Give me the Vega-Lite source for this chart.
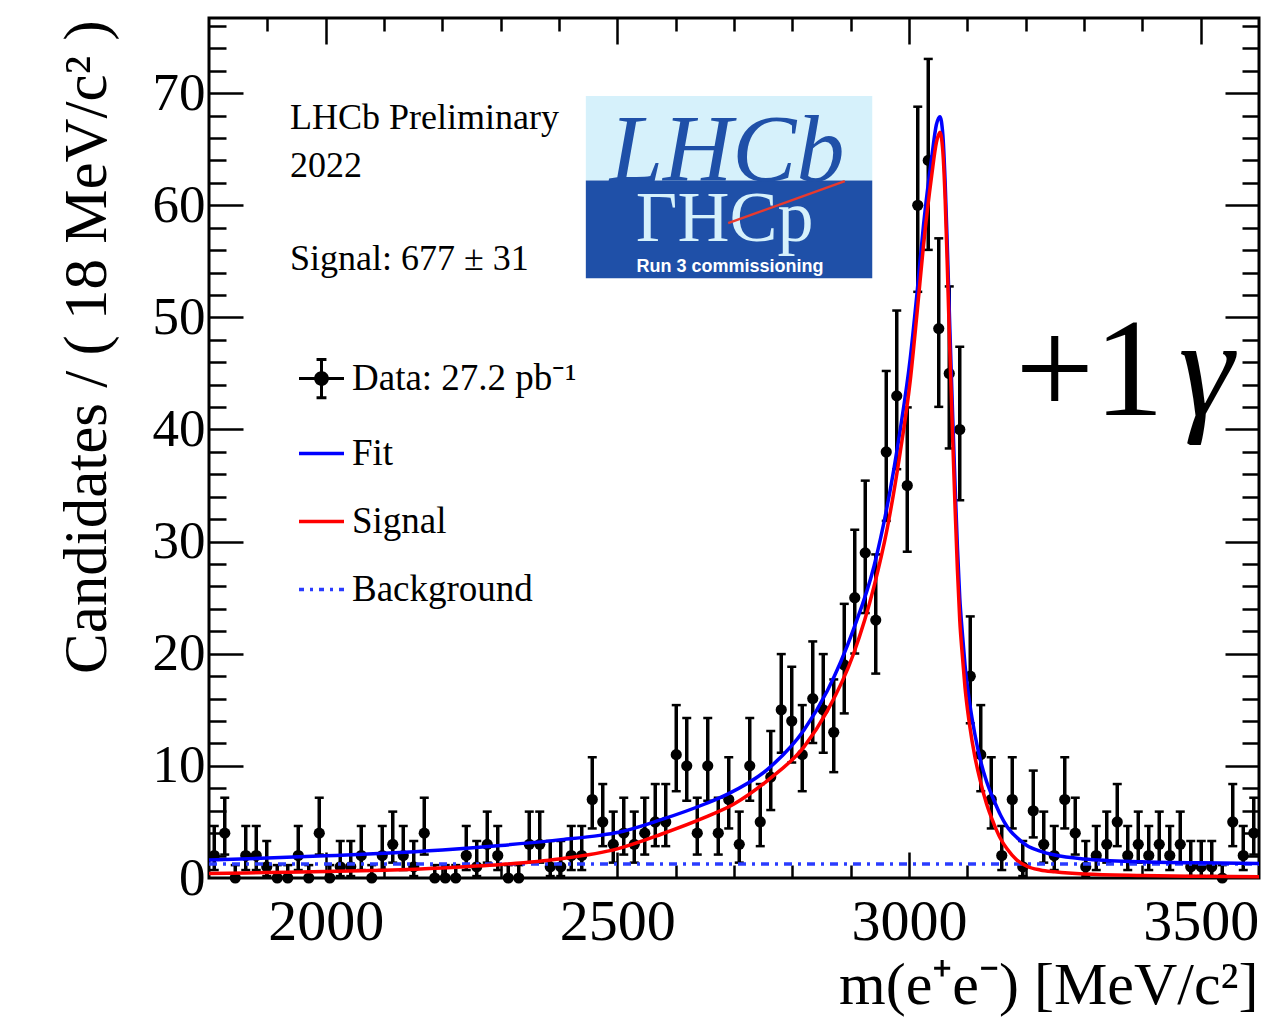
{
  "$schema": "https://vega.github.io/schema/vega-lite/v6.json",
  "width": 1050,
  "height": 860,
  "autosize": "none",
  "padding": {"left": 209, "top": 18, "right": 22, "bottom": 145},
  "background": "white",
  "config": {
    "view": {"stroke": "black", "strokeWidth": 3},
    "font": "Liberation Serif",
    "axis": {"grid": false}
  },
  "datasets": {
    "hist": [
      {"m":1809,"n":2,"lo":0.71,"hi":4.64},{"m":1827,"n":4,"lo":2.09,"hi":7.16},{"m":1845,"n":0,"lo":0,"hi":1.15},{"m":1863,"n":2,"lo":0.71,"hi":4.64},{"m":1881,"n":2,"lo":0.71,"hi":4.64},
      {"m":1899,"n":1,"lo":0.17,"hi":3.30},{"m":1917,"n":0,"lo":0,"hi":1.15},{"m":1935,"n":0,"lo":0,"hi":1.15},{"m":1953,"n":2,"lo":0.71,"hi":4.64},{"m":1971,"n":0,"lo":0,"hi":1.15},
      {"m":1989,"n":4,"lo":2.09,"hi":7.16},{"m":2007,"n":0,"lo":0,"hi":1.15},{"m":2025,"n":1,"lo":0.17,"hi":3.30},{"m":2043,"n":1,"lo":0.17,"hi":3.30},{"m":2061,"n":2,"lo":0.71,"hi":4.64},
      {"m":2079,"n":0,"lo":0,"hi":1.15},{"m":2097,"n":2,"lo":0.71,"hi":4.64},{"m":2115,"n":3,"lo":1.37,"hi":5.92},{"m":2133,"n":2,"lo":0.71,"hi":4.64},{"m":2151,"n":1,"lo":0.17,"hi":3.30},
      {"m":2169,"n":4,"lo":2.09,"hi":7.16},{"m":2187,"n":0,"lo":0,"hi":1.15},{"m":2205,"n":0,"lo":0,"hi":1.15},{"m":2223,"n":0,"lo":0,"hi":1.15},{"m":2241,"n":2,"lo":0.71,"hi":4.64},
      {"m":2259,"n":1,"lo":0.17,"hi":3.30},{"m":2277,"n":3,"lo":1.37,"hi":5.92},{"m":2295,"n":2,"lo":0.71,"hi":4.64},{"m":2313,"n":0,"lo":0,"hi":1.15},{"m":2331,"n":0,"lo":0,"hi":1.15},
      {"m":2349,"n":3,"lo":1.37,"hi":5.92},{"m":2367,"n":3,"lo":1.37,"hi":5.92},{"m":2385,"n":1,"lo":0.17,"hi":3.30},{"m":2403,"n":1,"lo":0.17,"hi":3.30},{"m":2421,"n":2,"lo":0.71,"hi":4.64},
      {"m":2439,"n":2,"lo":0.71,"hi":4.64},{"m":2457,"n":7,"lo":4.42,"hi":10.77},{"m":2475,"n":5,"lo":2.84,"hi":8.38},{"m":2493,"n":3,"lo":1.37,"hi":5.92},{"m":2511,"n":4,"lo":2.09,"hi":7.16},
      {"m":2529,"n":3,"lo":1.37,"hi":5.92},{"m":2547,"n":4,"lo":2.09,"hi":7.16},{"m":2565,"n":5,"lo":2.84,"hi":8.38},{"m":2583,"n":5,"lo":2.84,"hi":8.38},{"m":2601,"n":11,"lo":7.74,"hi":15.42},
      {"m":2619,"n":10,"lo":6.89,"hi":14.27},{"m":2637,"n":4,"lo":2.09,"hi":7.16},{"m":2655,"n":10,"lo":6.89,"hi":14.27},{"m":2673,"n":4,"lo":2.09,"hi":7.16},{"m":2691,"n":7,"lo":4.42,"hi":10.77},
      {"m":2709,"n":3,"lo":1.37,"hi":5.92},{"m":2727,"n":10,"lo":6.89,"hi":14.27},{"m":2745,"n":5,"lo":2.84,"hi":8.38},{"m":2763,"n":9,"lo":6.06,"hi":13.11},{"m":2781,"n":15,"lo":11.17,"hi":19.97},
      {"m":2799,"n":14,"lo":10.30,"hi":18.84},{"m":2817,"n":11,"lo":7.74,"hi":15.42},{"m":2835,"n":16,"lo":12.04,"hi":21.10},{"m":2853,"n":15,"lo":11.17,"hi":19.97},{"m":2871,"n":13,"lo":9.44,"hi":17.71},
      {"m":2889,"n":19,"lo":14.68,"hi":24.45},{"m":2907,"n":25,"lo":20.02,"hi":31.06},{"m":2925,"n":29,"lo":23.63,"hi":35.44},{"m":2943,"n":23,"lo":18.23,"hi":28.86},{"m":2961,"n":38,"lo":31.85,"hi":45.22},
      {"m":2979,"n":43,"lo":36.46,"hi":50.61},{"m":2997,"n":35,"lo":29.10,"hi":41.97},{"m":3015,"n":60,"lo":52.28,"hi":68.79},{"m":3033,"n":64,"lo":56.02,"hi":73.05},{"m":3051,"n":49,"lo":42.02,"hi":57.05},
      {"m":3069,"n":45,"lo":38.31,"hi":52.76},{"m":3087,"n":40,"lo":33.69,"hi":47.38},{"m":3105,"n":18,"lo":13.80,"hi":23.33},{"m":3123,"n":11,"lo":7.74,"hi":15.42},{"m":3141,"n":7,"lo":4.42,"hi":10.77},
      {"m":3159,"n":2,"lo":0.71,"hi":4.64},{"m":3177,"n":7,"lo":4.42,"hi":10.77},{"m":3195,"n":1,"lo":0.17,"hi":3.30},{"m":3213,"n":6,"lo":3.62,"hi":9.58},{"m":3231,"n":3,"lo":1.37,"hi":5.92},
      {"m":3249,"n":2,"lo":0.71,"hi":4.64},{"m":3267,"n":7,"lo":4.42,"hi":10.77},{"m":3285,"n":4,"lo":2.09,"hi":7.16},{"m":3303,"n":1,"lo":0.17,"hi":3.30},{"m":3321,"n":2,"lo":0.71,"hi":4.64},
      {"m":3339,"n":3,"lo":1.37,"hi":5.92},{"m":3357,"n":5,"lo":2.84,"hi":8.38},{"m":3375,"n":2,"lo":0.71,"hi":4.64},{"m":3393,"n":3,"lo":1.37,"hi":5.92},{"m":3411,"n":2,"lo":0.71,"hi":4.64},
      {"m":3429,"n":3,"lo":1.37,"hi":5.92},{"m":3447,"n":2,"lo":0.71,"hi":4.64},{"m":3465,"n":3,"lo":1.37,"hi":5.92},{"m":3483,"n":1,"lo":0.17,"hi":3.30},{"m":3501,"n":1,"lo":0.17,"hi":3.30},
      {"m":3519,"n":1,"lo":0.17,"hi":3.30},{"m":3537,"n":0,"lo":0,"hi":1.15},{"m":3555,"n":5,"lo":2.84,"hi":8.38},{"m":3573,"n":2,"lo":0.71,"hi":4.64},{"m":3591,"n":4,"lo":2.09,"hi":7.16}
    ],
    "bkg": [
      {"series":"Background","m":1800,"y":1.25},{"series":"Background","m":3600,"y":1.25}
    ],
    "fit": [
      {"series":"Fit","m":1800,"y":1.6},{"series":"Fit","m":1900,"y":1.78},{"series":"Fit","m":2000,"y":1.98},{"series":"Fit","m":2100,"y":2.2},{"series":"Fit","m":2200,"y":2.5},
      {"series":"Fit","m":2300,"y":2.9},{"series":"Fit","m":2400,"y":3.4},{"series":"Fit","m":2470,"y":3.8},{"series":"Fit","m":2500,"y":4.05},{"series":"Fit","m":2575,"y":5.2},
      {"series":"Fit","m":2650,"y":6.6},{"series":"Fit","m":2690,"y":7.5},{"series":"Fit","m":2760,"y":9.8},{"series":"Fit","m":2820,"y":13.2},{"series":"Fit","m":2860,"y":16.7},
      {"series":"Fit","m":2905,"y":22.2},{"series":"Fit","m":2940,"y":27.8},{"series":"Fit","m":2962,"y":33.0},{"series":"Fit","m":2985,"y":40.0},{"series":"Fit","m":3002,"y":46.3},
      {"series":"Fit","m":3014,"y":52.3},{"series":"Fit","m":3025,"y":58.3},{"series":"Fit","m":3039,"y":64.3},{"series":"Fit","m":3047,"y":67.2},{"series":"Fit","m":3053,"y":67.9},
      {"series":"Fit","m":3058,"y":66.3},{"series":"Fit","m":3062,"y":62.0},{"series":"Fit","m":3066,"y":55.8},{"series":"Fit","m":3070,"y":49.0},{"series":"Fit","m":3075,"y":41.0},
      {"series":"Fit","m":3079,"y":35.0},{"series":"Fit","m":3083,"y":29.5},{"series":"Fit","m":3087,"y":25.0},{"series":"Fit","m":3092,"y":21.5},{"series":"Fit","m":3096,"y":19.0},
      {"series":"Fit","m":3104,"y":15.6},{"series":"Fit","m":3113,"y":12.8},{"series":"Fit","m":3122,"y":10.6},{"series":"Fit","m":3133,"y":8.6},{"series":"Fit","m":3145,"y":7.0},
      {"series":"Fit","m":3157,"y":5.6},{"series":"Fit","m":3168,"y":4.6},{"series":"Fit","m":3185,"y":3.6},{"series":"Fit","m":3202,"y":2.9},{"series":"Fit","m":3225,"y":2.4},
      {"series":"Fit","m":3250,"y":2.05},{"series":"Fit","m":3300,"y":1.7},{"series":"Fit","m":3400,"y":1.45},{"series":"Fit","m":3500,"y":1.35},{"series":"Fit","m":3600,"y":1.3}
    ],
    "signal": [
      {"series":"Signal","m":1800,"y":0.40},{"series":"Signal","m":1900,"y":0.48},{"series":"Signal","m":2000,"y":0.57},{"series":"Signal","m":2100,"y":0.70},{"series":"Signal","m":2200,"y":0.90},
      {"series":"Signal","m":2300,"y":1.20},{"series":"Signal","m":2400,"y":1.70},{"series":"Signal","m":2500,"y":2.60},{"series":"Signal","m":2575,"y":3.9},{"series":"Signal","m":2650,"y":5.4},
      {"series":"Signal","m":2700,"y":6.6},{"series":"Signal","m":2760,"y":8.8},{"series":"Signal","m":2820,"y":11.7},{"series":"Signal","m":2860,"y":14.9},{"series":"Signal","m":2905,"y":20.0},
      {"series":"Signal","m":2940,"y":26.0},{"series":"Signal","m":2962,"y":31.0},{"series":"Signal","m":2985,"y":38.0},{"series":"Signal","m":3002,"y":44.3},{"series":"Signal","m":3014,"y":50.5},
      {"series":"Signal","m":3025,"y":56.5},{"series":"Signal","m":3039,"y":62.7},{"series":"Signal","m":3047,"y":65.6},{"series":"Signal","m":3053,"y":66.5},{"series":"Signal","m":3058,"y":64.8},
      {"series":"Signal","m":3062,"y":60.5},{"series":"Signal","m":3066,"y":54.0},{"series":"Signal","m":3070,"y":47.0},{"series":"Signal","m":3075,"y":39.0},{"series":"Signal","m":3079,"y":33.0},
      {"series":"Signal","m":3083,"y":27.5},{"series":"Signal","m":3087,"y":23.0},{"series":"Signal","m":3092,"y":19.5},{"series":"Signal","m":3096,"y":17.0},{"series":"Signal","m":3104,"y":13.6},
      {"series":"Signal","m":3113,"y":10.8},{"series":"Signal","m":3122,"y":8.7},{"series":"Signal","m":3133,"y":6.6},{"series":"Signal","m":3145,"y":4.9},{"series":"Signal","m":3157,"y":3.5},
      {"series":"Signal","m":3168,"y":2.6},{"series":"Signal","m":3185,"y":1.6},{"series":"Signal","m":3202,"y":1.05},{"series":"Signal","m":3225,"y":0.72},{"series":"Signal","m":3250,"y":0.55},
      {"series":"Signal","m":3300,"y":0.35},{"series":"Signal","m":3400,"y":0.22},{"series":"Signal","m":3500,"y":0.15},{"series":"Signal","m":3600,"y":0.12}
    ],
    "notes": [
      {"m":1939,"v":66.79,"text":"LHCb Preliminary"},
      {"m":1939,"v":62.51,"text":"2022"},
      {"m":1939,"v":54.22,"text":"Signal: 677 ± 31"}
    ],
    "logoLight": [{"m1":2446,"m2":2937,"v1":62.2,"v2":69.75}],
    "logoDark": [{"m1":2446,"m2":2937,"v1":53.5,"v2":62.2}],
    "logoTrack": [{"m1":2690,"v1":58.4,"m2":2890,"v2":62.15}],
    "logoText": [{"m":2688,"v":62.2,"text":"LHCb"}],
    "logoMirror": [{"m":2684,"v":61.9,"text":"ΓHCp"}],
    "logoRun": [{"m":2693,"v":54.05,"text":"Run 3 commissioning"}],
    "tagPlus": [{"m":3182,"v":41.3,"text":"+1"}],
    "tagGamma": [{"m":3462,"v":41.3,"text":"γ"}]
  },
  "resolve": {"axis": {"x": "independent", "y": "independent"}},
  "layer": [
    {
      "data": {"name": "hist"},
      "mark": {"type": "rule", "color": "black", "strokeWidth": 3.5},
      "encoding": {
        "x": {"field": "m", "type": "quantitative", "scale": {"domain": [1800, 3600], "nice": false, "zero": false},
          "axis": {"orient": "bottom", "values": [2000, 2500, 3000, 3500], "format": "d", "ticks": false, "domain": false, "grid": false,
            "labelFont": "Liberation Serif", "labelFontSize": 58, "labelPadding": 15, "labelColor": "black",
            "title": "m(e⁺e⁻) [MeV/c²]", "titleFont": "Liberation Serif", "titleFontSize": 60, "titleFontWeight": "normal", "titleColor": "black",
            "titleAlign": "right", "titleAnchor": "end", "titleBaseline": "alphabetic", "titleX": 1049, "titleY": 125}},
        "y": {"field": "lo", "type": "quantitative", "scale": {"domain": [0, 76.7], "nice": false, "zero": false},
          "axis": {"orient": "left", "values": [0, 10, 20, 30, 40, 50, 60, 70], "format": "d", "ticks": false, "domain": false, "grid": false,
            "labelFont": "Liberation Serif", "labelFontSize": 53, "labelPadding": 4, "labelColor": "black",
            "title": "Candidates / ( 18 MeV/c² )", "titleFont": "Liberation Serif", "titleFontSize": 61, "titleFontWeight": "normal", "titleColor": "black",
            "titleAngle": 270, "titleAlign": "right", "titleAnchor": "end", "titleBaseline": "alphabetic", "titleX": -104, "titleY": 2}},
        "y2": {"field": "hi"}
      }
    },
    {
      "data": {"name": "hist"},
      "mark": {"type": "tick", "orient": "horizontal", "color": "black", "size": 9, "thickness": 2.5, "opacity": 1},
      "encoding": {
        "x": {"field": "m", "type": "quantitative", "scale": {"domain": [1800, 3600], "nice": false, "zero": false},
          "axis": {"orient": "top", "offset": -860, "labels": false, "domain": false, "grid": false, "title": null,
            "values": [1900, 2000, 2100, 2200, 2300, 2400, 2500, 2600, 2700, 2800, 2900, 3000, 3100, 3200, 3300, 3400, 3500],
            "tickColor": "black", "tickWidth": 2.5,
            "tickSize": {"condition": {"test": "datum.value % 500 === 0", "value": 26}, "value": 13}}},
        "y": {"field": "hi", "type": "quantitative", "scale": {"domain": [0, 76.7], "nice": false, "zero": false},
          "axis": {"orient": "right", "offset": -1050, "labels": false, "domain": false, "grid": false, "title": null,
            "values": [2, 4, 6, 8, 10, 12, 14, 16, 18, 20, 22, 24, 26, 28, 30, 32, 34, 36, 38, 40, 42, 44, 46, 48, 50, 52, 54, 56, 58, 60, 62, 64, 66, 68, 70, 72, 74, 76],
            "tickColor": "black", "tickWidth": 2.5,
            "tickSize": {"condition": {"test": "datum.value % 10 === 0", "value": 34}, "value": 17}}}
      }
    },
    {
      "data": {"name": "hist"},
      "mark": {"type": "tick", "orient": "horizontal", "color": "black", "size": 9, "thickness": 2.5, "opacity": 1},
      "encoding": {
        "x": {"field": "m", "type": "quantitative", "scale": {"domain": [1800, 3600], "nice": false, "zero": false},
          "axis": {"orient": "bottom", "offset": -860, "labels": false, "domain": false, "grid": false, "title": null,
            "values": [1900, 2000, 2100, 2200, 2300, 2400, 2500, 2600, 2700, 2800, 2900, 3000, 3100, 3200, 3300, 3400, 3500],
            "tickColor": "black", "tickWidth": 2.5,
            "tickSize": {"condition": {"test": "datum.value % 500 === 0", "value": 26}, "value": 13}}},
        "y": {"field": "lo", "type": "quantitative", "scale": {"domain": [0, 76.7], "nice": false, "zero": false},
          "axis": {"orient": "left", "offset": -1050, "labels": false, "domain": false, "grid": false, "title": null,
            "values": [2, 4, 6, 8, 10, 12, 14, 16, 18, 20, 22, 24, 26, 28, 30, 32, 34, 36, 38, 40, 42, 44, 46, 48, 50, 52, 54, 56, 58, 60, 62, 64, 66, 68, 70, 72, 74, 76],
            "tickColor": "black", "tickWidth": 2.5,
            "tickSize": {"condition": {"test": "datum.value % 10 === 0", "value": 34}, "value": 17}}}
      }
    },
    {
      "data": {"name": "hist"},
      "mark": {"type": "circle", "color": "black", "size": 125, "opacity": 1},
      "encoding": {
        "x": {"field": "m", "type": "quantitative", "axis": null},
        "y": {"field": "n", "type": "quantitative", "axis": null}
      }
    },
    {
      "data": {"name": "bkg"},
      "mark": {"type": "line", "strokeWidth": 3.5, "strokeDash": [8, 6, 3, 6]},
      "encoding": {
        "x": {"field": "m", "type": "quantitative", "axis": null},
        "y": {"field": "y", "type": "quantitative", "axis": null},
        "color": {"field": "series", "type": "nominal",
          "scale": {"domain": ["Data: 27.2 pb⁻¹", "Fit", "Signal", "Background"], "range": ["black", "#0000ff", "#ff0000", "#2a3cff"]},
          "legend": {"orient": "none", "legendX": 94, "legendY": 342, "title": null, "padding": 0,
            "symbolSize": 2025, "symbolStrokeWidth": 3.5, "symbolType": "stroke",
            "labelFont": "Liberation Serif", "labelFontSize": 37, "labelColor": "black", "labelOffset": 12, "labelLimit": 500,
            "rowPadding": 30,
            "encode": {"symbols": {"update": {
              "shape": {"signal": "datum.value === 'Data: 27.2 pb⁻¹' ? 'M-1,0L1,0M0,-0.85L0,0.85M-0.22,-0.85L0.22,-0.85M-0.22,0.85L0.22,0.85M-0.26,0A0.26,0.26,0,1,1,0.26,0A0.26,0.26,0,1,1,-0.26,0Z' : 'stroke'"},
              "strokeDash": {"signal": "datum.value === 'Background' ? [5, 6, 3, 6] : [1, 0]"},
              "fill": {"signal": "datum.value === 'Data: 27.2 pb⁻¹' ? 'black' : 'transparent'"},
              "strokeWidth": {"signal": "datum.value === 'Data: 27.2 pb⁻¹' ? 3 : 3.5"}
            }}}}
        }
      }
    },
    {
      "data": {"name": "fit"},
      "mark": {"type": "line", "strokeWidth": 3.5, "interpolate": "monotone"},
      "encoding": {
        "x": {"field": "m", "type": "quantitative", "axis": null},
        "y": {"field": "y", "type": "quantitative", "axis": null},
        "color": {"field": "series", "type": "nominal"}
      }
    },
    {
      "data": {"name": "signal"},
      "mark": {"type": "line", "strokeWidth": 3.5, "interpolate": "monotone"},
      "encoding": {
        "x": {"field": "m", "type": "quantitative", "axis": null},
        "y": {"field": "y", "type": "quantitative", "axis": null},
        "color": {"field": "series", "type": "nominal"}
      }
    },
    {
      "data": {"name": "notes"},
      "mark": {"type": "text", "font": "Liberation Serif", "fontSize": 36, "align": "left", "baseline": "alphabetic", "color": "black"},
      "encoding": {
        "x": {"field": "m", "type": "quantitative", "axis": null},
        "y": {"field": "v", "type": "quantitative", "axis": null},
        "text": {"field": "text"}
      }
    },
    {
      "data": {"name": "logoLight"},
      "mark": {"type": "rect", "color": "#d6f1fb"},
      "encoding": {
        "x": {"field": "m1", "type": "quantitative", "axis": null}, "x2": {"field": "m2"},
        "y": {"field": "v1", "type": "quantitative", "axis": null}, "y2": {"field": "v2"}
      }
    },
    {
      "data": {"name": "logoDark"},
      "mark": {"type": "rect", "color": "#1f50a8"},
      "encoding": {
        "x": {"field": "m1", "type": "quantitative", "axis": null}, "x2": {"field": "m2"},
        "y": {"field": "v1", "type": "quantitative", "axis": null}, "y2": {"field": "v2"}
      }
    },
    {
      "data": {"name": "logoText"},
      "mark": {"type": "text", "font": "Liberation Serif", "fontStyle": "italic", "fontSize": 96, "align": "center", "baseline": "alphabetic", "color": "#1f50a8"},
      "encoding": {
        "x": {"field": "m", "type": "quantitative", "axis": null},
        "y": {"field": "v", "type": "quantitative", "axis": null},
        "text": {"field": "text"}
      }
    },
    {
      "data": {"name": "logoMirror"},
      "mark": {"type": "text", "font": "Liberation Serif", "fontSize": 72, "align": "center", "baseline": "top", "color": "#d6f1fb"},
      "encoding": {
        "x": {"field": "m", "type": "quantitative", "axis": null},
        "y": {"field": "v", "type": "quantitative", "axis": null},
        "text": {"field": "text"}
      }
    },
    {
      "data": {"name": "logoTrack"},
      "mark": {"type": "rule", "color": "#e83a2e", "strokeWidth": 2.5},
      "encoding": {
        "x": {"field": "m1", "type": "quantitative", "axis": null}, "x2": {"field": "m2"},
        "y": {"field": "v1", "type": "quantitative", "axis": null}, "y2": {"field": "v2"}
      }
    },
    {
      "data": {"name": "logoRun"},
      "mark": {"type": "text", "font": "Liberation Sans", "fontWeight": "bold", "fontSize": 18, "align": "center", "baseline": "alphabetic", "color": "white"},
      "encoding": {
        "x": {"field": "m", "type": "quantitative", "axis": null},
        "y": {"field": "v", "type": "quantitative", "axis": null},
        "text": {"field": "text"}
      }
    },
    {
      "data": {"name": "tagPlus"},
      "mark": {"type": "text", "font": "Liberation Serif", "fontSize": 140, "align": "left", "baseline": "alphabetic", "color": "black"},
      "encoding": {
        "x": {"field": "m", "type": "quantitative", "axis": null},
        "y": {"field": "v", "type": "quantitative", "axis": null},
        "text": {"field": "text"}
      }
    },
    {
      "data": {"name": "tagGamma"},
      "mark": {"type": "text", "font": "Liberation Serif", "fontStyle": "italic", "fontSize": 140, "align": "left", "baseline": "alphabetic", "color": "black"},
      "encoding": {
        "x": {"field": "m", "type": "quantitative", "axis": null},
        "y": {"field": "v", "type": "quantitative", "axis": null},
        "text": {"field": "text"}
      }
    }
  ]
}
